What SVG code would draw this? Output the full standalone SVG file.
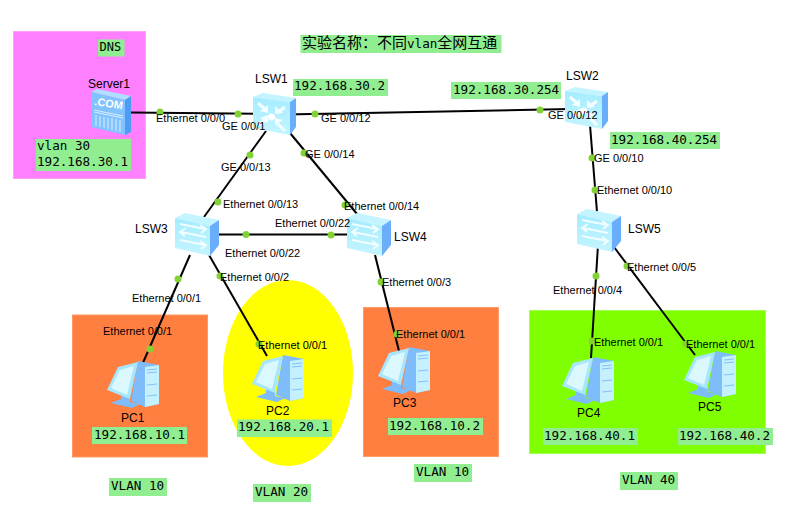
<svg xmlns="http://www.w3.org/2000/svg" width="800" height="512" viewBox="0 0 800 512">
<style>
.l{font:11px "Liberation Sans",Arial,sans-serif;fill:#000}
.n{font:12px "Liberation Sans",Arial,sans-serif;fill:#000}
.m{font:12.6px "DejaVu Sans Mono",monospace;fill:#000}
.t{font:15px "Noto Sans CJK SC","DejaVu Sans Mono",monospace;fill:#000}
.b{fill:#90ee90}
.c{stroke:#000;stroke-width:2;fill:none}
.d{fill:#82d235}
</style>
<defs>
<linearGradient id="f" x1="0" y1="0" x2="0" y2="1"><stop offset="0" stop-color="#a5ecff"/><stop offset="1" stop-color="#c4f5ff"/></linearGradient>
<symbol id="sw" width="46" height="46" viewBox="0 0 46 46" overflow="visible">
<path d="M0 5L10 0L44 7L35 13Z" fill="#c4f4ff"/>
<path d="M0 5L35 13V43L0 35Z" fill="url(#f)"/>
<path d="M35 13L44 7V32L35 43Z" fill="#6aaefb"/>
<g fill="none" stroke="#f2fdff" stroke-width="2">
<path d="M5 11L30 16M25 12L31 16L26 20"/>
<path d="M31 24L6 19M11 15L5 19L10 23"/>
<path d="M5 27L30 32M25 28L31 32L26 36"/>
</g>
</symbol>
<symbol id="l3" width="46" height="46" viewBox="0 0 46 46" overflow="visible">
<path d="M0 4L10 0L43 5L37 9Z" fill="#c4f4ff"/>
<path d="M0 4L37 9V42L0 35Z" fill="url(#f)"/>
<path d="M37 9L43 5V34L37 42Z" fill="#6aaefb"/>
<g fill="none" stroke="#f4fdff" stroke-width="3">
<path d="M5 10L13 17M6 32L13 26M32 14L24 20M32 38L24 30"/>
</g>
<g fill="#f4fdff">
<path d="M15 12V20L7 18Z"/><path d="M15 30V22L7 25Z"/><path d="M22 13V21L30 20Z"/><path d="M22 32V25L30 27Z"/>
</g>
<circle cx="18.500" cy="24" r="3.500" fill="#fff"/>
</symbol>
<symbol id="pc" width="54" height="50" viewBox="0 0 54 50" overflow="visible">
<path d="M31 3L52 7V46L38 49L24 43Z" fill="#7fbcfc"/>
<path d="M38 9L52 7V46L38 49Z" fill="#c4f1fd"/>
<path d="M40 12L50 11M40 15L50 14M40 27L50 26M40 38L50 37" stroke="#85c0fc" fill="none"/>
<path d="M4 45L14 41V36L23 38V44L33 46L25 50Z" fill="#7fbcfc"/>
<path d="M0 32L11 9L31 4L23 41Z" fill="#a8e6fd"/>
<path d="M4 30L13 12L27 8L20 37Z" fill="#dcf8ff"/>
</symbol>
<symbol id="srv" width="40" height="46" viewBox="0 0 40 46" overflow="visible">
<path d="M0 3L6 0L40 7L34 11Z" fill="#b0deff"/>
<path d="M0 3L34 11V46L0 38Z" fill="#82c2ff"/>
<path d="M34 11L40 7V43L34 46Z" fill="#4f9cf5"/>
<path d="M3 21L32 27M3 23L32 29" stroke="#d8eeff" fill="none"/>
<path d="M5 26V37M9 27V38M13 28V39M17 29V40M21 29V41M25 30V42M29 31V43" stroke="#d8eeff" fill="none"/>
<text x="3" y="16" transform="rotate(9 3 16)" style="font:bold 11px 'Liberation Sans',sans-serif;fill:#fff">.COM</text>
</symbol>
</defs>

<g id="backgrounds">
<rect x="13.500" y="31.500" width="132" height="147" fill="#ff80ff" stroke="#ffa0ff"/>
<rect x="72.500" y="315" width="135" height="142" fill="#ff7f40" stroke="#ff9a66"/>
<ellipse cx="288" cy="373" rx="65" ry="93" fill="#ffff00"/>
<rect x="363.500" y="307.500" width="135" height="149" fill="#ff7f40" stroke="#ff9a66"/>
<rect x="529.500" y="310.500" width="236" height="143" fill="#80ff00" stroke="#a0ff50"/>
</g>

<g id="connectors">
<path class="c" d="M131 112.500L268 114"/>
<path class="c" d="M285 114.500L570 109"/>
<path class="c" d="M266 131L204 217"/>
<path class="c" d="M290 133L362 220"/>
<path class="c" d="M198 234.500H349"/>
<path class="c" d="M190 255L142 365"/>
<path class="c" d="M209 255L267 356"/>
<path class="c" d="M375 255L400 355"/>
<path class="c" d="M590 125L597 212"/>
<path class="c" d="M598 245L591 358"/>
<path class="c" d="M614 247L695 355"/>
<circle class="d" cx="160" cy="112" r="3.500"/>
<circle class="d" cx="238" cy="114" r="3.500"/>
<circle class="d" cx="315" cy="114" r="3.500"/>
<circle class="d" cx="540" cy="110" r="3.500"/>
<circle class="d" cx="250" cy="155" r="3.500"/>
<circle class="d" cx="218" cy="202" r="3.500"/>
<circle class="d" cx="304" cy="153" r="3.500"/>
<circle class="d" cx="345" cy="205" r="3.500"/>
<circle class="d" cx="246" cy="234.500" r="3.500"/>
<circle class="d" cx="331" cy="235" r="3.500"/>
<circle class="d" cx="178" cy="279" r="3.500"/>
<circle class="d" cx="150" cy="349" r="3.500"/>
<circle class="d" cx="220" cy="276" r="3.500"/>
<circle class="d" cx="259" cy="344" r="3.500"/>
<circle class="d" cx="381" cy="282" r="3.500"/>
<circle class="d" cx="397" cy="334" r="3.500"/>
<circle class="d" cx="592" cy="158" r="3.500"/>
<circle class="d" cx="595" cy="190" r="3.500"/>
<circle class="d" cx="596" cy="276" r="3.500"/>
<circle class="d" cx="592" cy="341" r="3.500"/>
<circle class="d" cx="627" cy="266" r="3.500"/>
<circle class="d" cx="686" cy="344" r="3.500"/>
</g>

<g id="Server1"><use href="#srv" x="91" y="89"/><text class="n" x="88" y="88">Server1</text></g>
<g id="LSW1"><use href="#l3" x="253" y="93"/><text class="n" x="255" y="83">LSW1</text></g>
<g id="LSW2"><use href="#l3" x="565" y="87"/><text class="n" x="566" y="80">LSW2</text></g>
<g id="LSW3"><use href="#sw" x="175" y="213"/><text class="n" x="135" y="233">LSW3</text></g>
<g id="LSW4"><use href="#sw" x="347" y="213"/><text class="n" x="394" y="241">LSW4</text></g>
<g id="LSW5"><use href="#sw" x="577" y="209"/><text class="n" x="628" y="233">LSW5</text></g>
<g id="PC1"><use href="#pc" x="107" y="358"/><text class="n" x="121" y="422">PC1</text></g>
<g id="PC2"><use href="#pc" x="252" y="352"/><text class="n" x="266" y="415">PC2</text></g>
<g id="PC3"><use href="#pc" x="378" y="344"/><text class="n" x="393" y="407">PC3</text></g>
<g id="PC4"><use href="#pc" x="562" y="354"/><text class="n" x="577" y="417">PC4</text></g>
<g id="PC5"><use href="#pc" x="684" y="348"/><text class="n" x="698" y="411">PC5</text></g>

<g id="port-labels">
<text class="l" x="156" y="122">Ethernet 0/0/0</text>
<text class="l" x="222" y="130">GE 0/0/1</text>
<text class="l" x="321" y="122">GE 0/0/12</text>
<text class="l" x="548" y="119">GE 0/0/12</text>
<text class="l" x="221" y="171">GE 0/0/13</text>
<text class="l" x="223" y="208">Ethernet 0/0/13</text>
<text class="l" x="305" y="158">GE 0/0/14</text>
<text class="l" x="344" y="210">Ethernet 0/0/14</text>
<text class="l" x="275" y="227">Ethernet 0/0/22</text>
<text class="l" x="225" y="257">Ethernet 0/0/22</text>
<text class="l" x="132" y="302">Ethernet 0/0/1</text>
<text class="l" x="103" y="335">Ethernet 0/0/1</text>
<text class="l" x="220" y="281">Ethernet 0/0/2</text>
<text class="l" x="258" y="349">Ethernet 0/0/1</text>
<text class="l" x="382" y="286">Ethernet 0/0/3</text>
<text class="l" x="396" y="338">Ethernet 0/0/1</text>
<text class="l" x="594" y="162">GE 0/0/10</text>
<text class="l" x="597" y="194">Ethernet 0/0/10</text>
<text class="l" x="553" y="294">Ethernet 0/0/4</text>
<text class="l" x="594" y="346">Ethernet 0/0/1</text>
<text class="l" x="627" y="271">Ethernet 0/0/5</text>
<text class="l" x="686" y="348">Ethernet 0/0/1</text>
</g>

<g id="notes">
<rect class="b" x="300.500" y="35" width="201" height="18"/>
<text class="t" x="302" y="48">实验名称：不同<tspan style="font:12.6px 'DejaVu Sans Mono',monospace">vlan</tspan>全网互通</text>
<rect class="b" x="98" y="39.500" width="26.500" height="17"/><text class="m" x="99.500" y="51" style="font-size:12px">DNS</text>
<rect class="b" x="36" y="139" width="95" height="32"/><text class="m" x="37" y="150">vlan 30</text><text class="m" x="37" y="166">192.168.30.1</text>
<rect class="b" x="293" y="79" width="95" height="17"/><text class="m" x="294" y="90">192.168.30.2</text>
<rect class="b" x="451" y="82" width="110" height="17"/><text class="m" x="453" y="94">192.168.30.254</text>
<rect class="b" x="610" y="132" width="110" height="17"/><text class="m" x="611" y="144">192.168.40.254</text>
<rect class="b" x="92" y="427" width="95" height="17"/><text class="m" x="94" y="438.500">192.168.10.1</text>
<rect class="b" x="237" y="419.500" width="95" height="17.500"/><text class="m" x="238" y="431">192.168.20.1</text>
<rect class="b" x="388" y="418" width="95" height="17"/><text class="m" x="389" y="430">192.168.10.2</text>
<rect class="b" x="543" y="428" width="95" height="17"/><text class="m" x="544" y="440">192.168.40.1</text>
<rect class="b" x="678" y="428" width="95" height="17"/><text class="m" x="679" y="440">192.168.40.2</text>
<rect class="b" x="109" y="478" width="58" height="18"/><text class="m" x="111" y="490">VLAN 10</text>
<rect class="b" x="253" y="484" width="58" height="18"/><text class="m" x="255" y="496">VLAN 20</text>
<rect class="b" x="414" y="464" width="58" height="18"/><text class="m" x="416" y="476">VLAN 10</text>
<rect class="b" x="620" y="472" width="58" height="18"/><text class="m" x="622" y="484">VLAN 40</text>
</g>
</svg>
